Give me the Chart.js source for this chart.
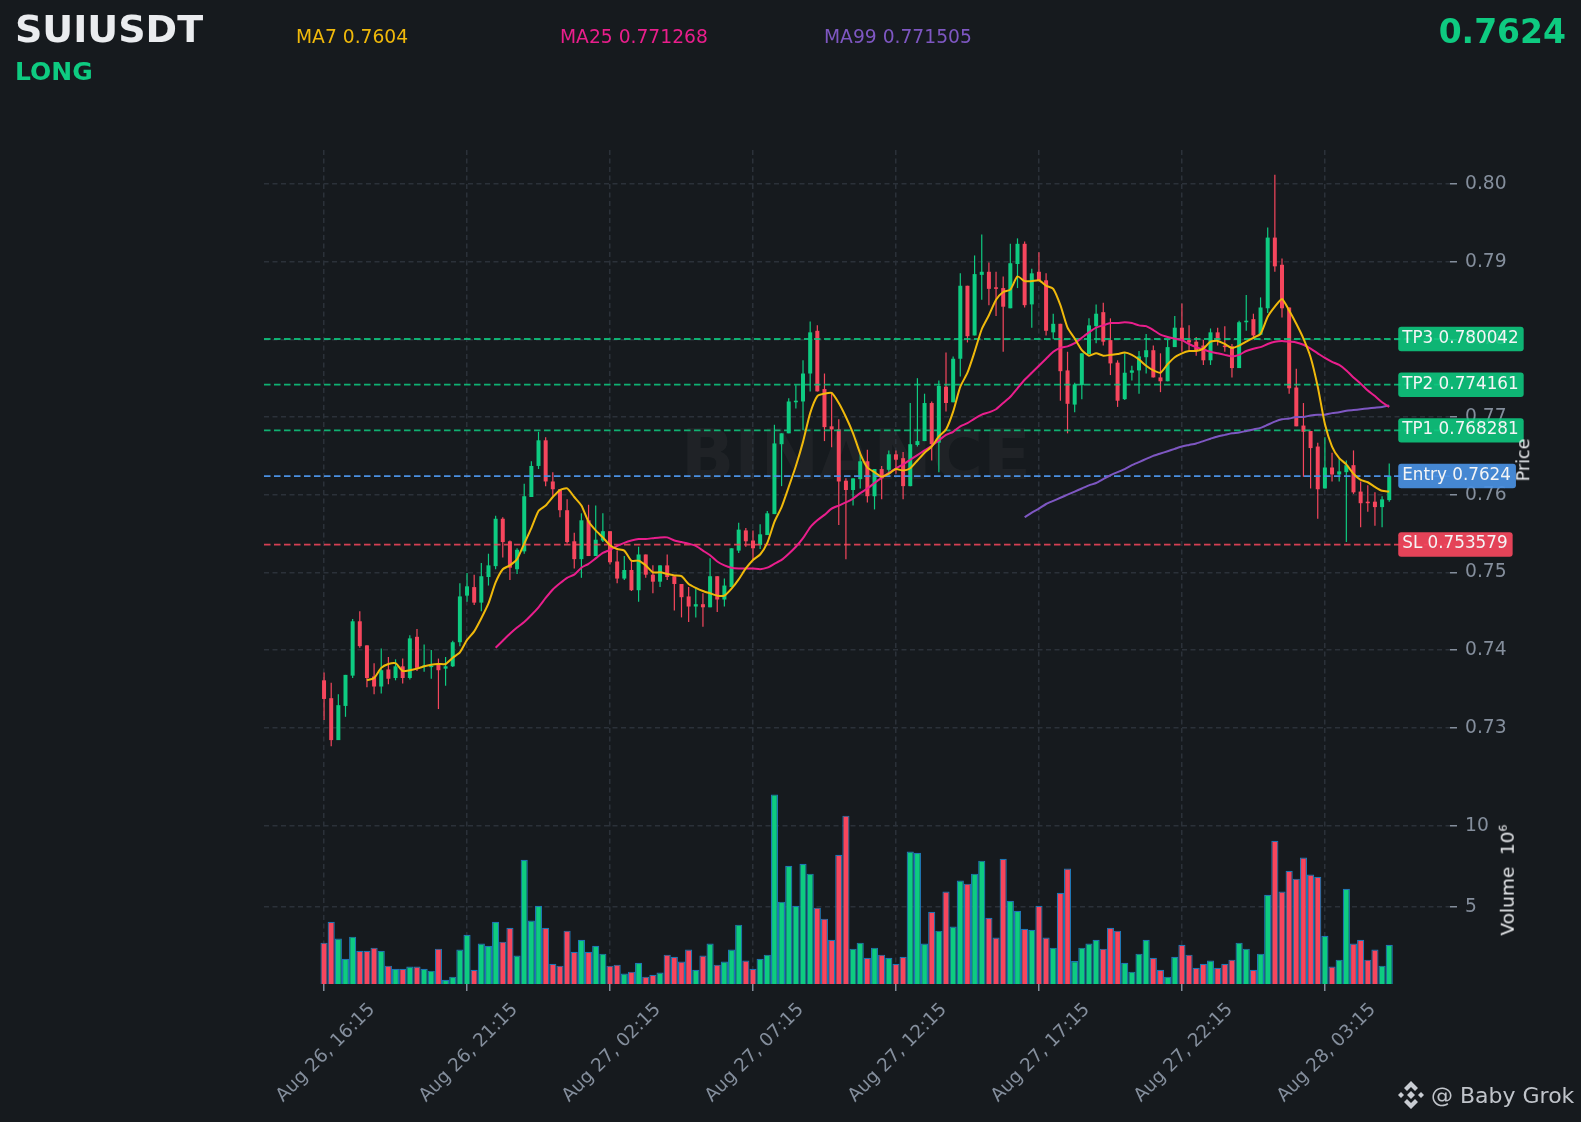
<!DOCTYPE html>
<html>
<head>
<meta charset="utf-8">
<title>SUIUSDT</title>
<script src="https://cdn.jsdelivr.net/npm/chart.js@4/dist/chart.umd.min.js"></script>
<style>
    html, body { margin: 0; padding: 0; background: #161a1e; }
    body { width: 1581px; height: 1122px; position: relative; overflow: hidden; font-family: "DejaVu Sans", sans-serif; }
    #chart { position: absolute; left: 0; top: 0; }
    .txt { position: absolute; white-space: nowrap; line-height: 1; }
    .rot { transform: translate(-50%, -50%) rotate(-90deg); color: #eaecef; }
    sup { font-size: 11px; line-height: 0; }
</style>
</head>
<body>
<div class="txt" style="left:681px;top:420px;font-size:70px;font-weight:bold;color:rgba(255,255,255,0.04);">BINANCE</div>
<canvas id="chart" width="1581" height="1122" style="width:1581px;height:1122px"></canvas>
<div class="txt" style="left:15px;top:10px;font-size:38px;font-weight:bold;color:#eaecef;">SUIUSDT</div>
<div class="txt" style="left:15px;top:59px;font-size:25px;font-weight:bold;color:#0ecb81;">LONG</div>
<div class="txt" style="left:296px;top:28px;font-size:18.7px;color:#f0b90b;">MA7 0.7604</div>
<div class="txt" style="left:560px;top:28px;font-size:18.7px;color:#e91e8c;">MA25 0.771268</div>
<div class="txt" style="left:824px;top:28px;font-size:18.7px;color:#7e57c2;">MA99 0.771505</div>
<div class="txt" style="right:15px;top:15px;font-size:33px;font-weight:bold;color:#0ecb81;">0.7624</div>
<div class="txt rot" style="left:1524px;top:460px;font-size:17.5px;">Price</div>
<div class="txt rot" style="left:1508px;top:880px;font-size:18.5px;">Volume&nbsp;&nbsp;10<sup>6</sup></div>
<svg style="position:absolute;left:1397px;top:1081px" width="28" height="28" viewBox="0 0 28 28" fill="#c8ccd2">
    <polygon points="14,0 21,7 18,10 14,6 10,10 7,7"/>
    <polygon points="14,28 21,21 18,18 14,22 10,18 7,21"/>
    <polygon points="14,10 18,14 14,18 10,14"/>
    <polygon points="4,11 7,14 4,17 1,14"/>
    <polygon points="24,11 27,14 24,17 21,14"/>
</svg>
<div class="txt" style="left:1431px;top:1085px;font-size:22px;color:#c0c4ca;">@ Baby Grok</div>

<script>
// Candles, 15 minute bars
const opens = [
    0.7361, 0.7338, 0.7284, 0.7328, 0.7367, 0.7437, 0.7406, 0.7366, 0.7353, 0.7375,
    0.7364, 0.7379, 0.7364, 0.7417, 0.7378, 0.7378, 0.7383, 0.7376, 0.7379, 0.7410,
    0.7470, 0.7481, 0.7461, 0.7494, 0.7508, 0.7569, 0.7540, 0.7504, 0.7527, 0.7597,
    0.7637, 0.7670, 0.7617, 0.7607, 0.7580, 0.7540, 0.7517, 0.7567, 0.7521, 0.7541,
    0.7553, 0.7514, 0.7492, 0.7503, 0.7477, 0.7523, 0.7497, 0.7488, 0.7509, 0.7495,
    0.7485, 0.7469, 0.7456, 0.7459, 0.7455, 0.7495, 0.7465, 0.7481, 0.7528, 0.7554,
    0.7541, 0.7535, 0.7548, 0.7575, 0.7665, 0.7679, 0.7719, 0.7720, 0.7756, 0.7811,
    0.7736, 0.7688, 0.7684, 0.7618, 0.7606, 0.7620, 0.7643, 0.7598, 0.7633, 0.7632,
    0.7652, 0.7647, 0.7611, 0.7664, 0.7669, 0.7718, 0.7667, 0.7739, 0.7719, 0.7775,
    0.7869, 0.7805, 0.7883, 0.7887, 0.7867, 0.7866, 0.7840, 0.7897, 0.7923, 0.7845,
    0.7887, 0.7876, 0.7809, 0.7820, 0.7760, 0.7716, 0.7741, 0.7781, 0.7817, 0.7835,
    0.7799, 0.7770, 0.7723, 0.7757, 0.7760, 0.7777, 0.7786, 0.7751, 0.7746, 0.7790,
    0.7815, 0.7799, 0.7797, 0.7792, 0.7773, 0.7809, 0.7792, 0.7791, 0.7763, 0.7822,
    0.7826, 0.7806, 0.7840, 0.7931, 0.7896, 0.7841, 0.7738, 0.7689, 0.7682, 0.7662,
    0.7608, 0.7635, 0.7626, 0.7629, 0.7638, 0.7604, 0.7591, 0.7591, 0.7584, 0.7593
];
const closes = [
    0.7337, 0.7284, 0.7329, 0.7368, 0.7437, 0.7405, 0.7364, 0.7353, 0.7374, 0.7363,
    0.7379, 0.7364, 0.7415, 0.7377, 0.7380, 0.7380, 0.7374, 0.7379, 0.7410, 0.7469,
    0.7482, 0.7461, 0.7495, 0.7509, 0.7569, 0.7539, 0.7506, 0.7529, 0.7598, 0.7637,
    0.7670, 0.7617, 0.7607, 0.7580, 0.7539, 0.7517, 0.7567, 0.7521, 0.7542, 0.7553,
    0.7513, 0.7492, 0.7503, 0.7477, 0.7523, 0.7497, 0.7488, 0.7509, 0.7494, 0.7485,
    0.7468, 0.7456, 0.7459, 0.7455, 0.7495, 0.7465, 0.7483, 0.7531, 0.7555, 0.7540,
    0.7531, 0.7549, 0.7576, 0.7666, 0.7679, 0.7720, 0.7721, 0.7756, 0.7809, 0.7733,
    0.7687, 0.7684, 0.7617, 0.7606, 0.7621, 0.7643, 0.7598, 0.7633, 0.7621, 0.7652,
    0.7645, 0.7611, 0.7665, 0.7669, 0.7718, 0.7665, 0.7740, 0.7718, 0.7775, 0.7869,
    0.7804, 0.7884, 0.7887, 0.7865, 0.7865, 0.7842, 0.7898, 0.7923, 0.7844, 0.7885,
    0.7875, 0.7811, 0.7820, 0.7759, 0.7717, 0.7742, 0.7782, 0.7818, 0.7833, 0.7797,
    0.7769, 0.7721, 0.7757, 0.7760, 0.7778, 0.7786, 0.7751, 0.7746, 0.7790, 0.7815,
    0.7799, 0.7796, 0.7786, 0.7773, 0.7809, 0.7799, 0.7790, 0.7763, 0.7822, 0.7824,
    0.7805, 0.7841, 0.7931, 0.7894, 0.7840, 0.7737, 0.7688, 0.7681, 0.7660, 0.7607,
    0.7635, 0.7626, 0.7630, 0.7638, 0.7603, 0.7589, 0.7589, 0.7584, 0.7594, 0.7624
];
const highs = [
    0.7371, 0.7358, 0.7343, 0.7368, 0.7440, 0.7450, 0.7406, 0.7383, 0.7402, 0.7391,
    0.7388, 0.7389, 0.7419, 0.7427, 0.7407, 0.7400, 0.7389, 0.7391, 0.7412, 0.7486,
    0.7499, 0.7497, 0.7512, 0.7524, 0.7573, 0.7571, 0.7541, 0.7531, 0.7614, 0.7643,
    0.7681, 0.7674, 0.7629, 0.7607, 0.7594, 0.7551, 0.7576, 0.7587, 0.7586, 0.7576,
    0.7553, 0.7528, 0.7521, 0.7515, 0.7533, 0.7523, 0.7509, 0.7509, 0.7523, 0.7495,
    0.7485, 0.7481, 0.7479, 0.7473, 0.7518, 0.7495, 0.7492, 0.7531, 0.7564, 0.7557,
    0.7554, 0.7562, 0.7579, 0.7690, 0.7679, 0.7724, 0.7741, 0.7773, 0.7823, 0.7818,
    0.7756, 0.7732, 0.7697, 0.7621, 0.7621, 0.7653, 0.7658, 0.7633, 0.7637, 0.7657,
    0.7657, 0.7655, 0.7718, 0.7750, 0.7730, 0.7720, 0.7747, 0.7783, 0.7778, 0.7885,
    0.7869, 0.7908, 0.7935, 0.7899, 0.7887, 0.7881, 0.7923, 0.7930, 0.7926, 0.7891,
    0.7912, 0.7885, 0.7833, 0.7820, 0.7784, 0.7744, 0.7782, 0.7827, 0.7845, 0.7847,
    0.7827, 0.7773, 0.7782, 0.7766, 0.7785, 0.7807, 0.7792, 0.7782, 0.7799, 0.7830,
    0.7846, 0.7818, 0.7803, 0.7799, 0.7814, 0.7815, 0.7817, 0.7794, 0.7824, 0.7857,
    0.7833, 0.7854, 0.7944, 0.8012, 0.7904, 0.7841, 0.7762, 0.7718, 0.7682, 0.7667,
    0.7674, 0.7654, 0.7646, 0.7644, 0.7657, 0.7617, 0.7612, 0.7603, 0.7598, 0.7640
];
const lows = [
    0.7310, 0.7276, 0.7284, 0.7314, 0.7364, 0.7403, 0.7352, 0.7343, 0.7344, 0.7356,
    0.7361, 0.7357, 0.7362, 0.7373, 0.7372, 0.7363, 0.7324, 0.7354, 0.7378, 0.7405,
    0.7462, 0.7458, 0.7450, 0.7483, 0.7504, 0.7519, 0.7490, 0.7498, 0.7524, 0.7597,
    0.7633, 0.7611, 0.7597, 0.7571, 0.7537, 0.7505, 0.7493, 0.7521, 0.7521, 0.7539,
    0.7510, 0.7486, 0.7490, 0.7476, 0.7462, 0.7493, 0.7473, 0.7481, 0.7490, 0.7451,
    0.7442, 0.7436, 0.7442, 0.7430, 0.7455, 0.7449, 0.7456, 0.7481, 0.7525, 0.7533,
    0.7515, 0.7530, 0.7548, 0.7575, 0.7611, 0.7679, 0.7711, 0.7683, 0.7733, 0.7733,
    0.7669, 0.7661, 0.7561, 0.7517, 0.7586, 0.7608, 0.7590, 0.7581, 0.7594, 0.7625,
    0.7627, 0.7594, 0.7611, 0.7662, 0.7669, 0.7644, 0.7629, 0.7707, 0.7719, 0.7752,
    0.7796, 0.7805, 0.7851, 0.7844, 0.7830, 0.7784, 0.7840, 0.7866, 0.7841, 0.7815,
    0.7875, 0.7805, 0.7800, 0.7721, 0.7679, 0.7706, 0.7723, 0.7781, 0.7795, 0.7792,
    0.7754, 0.7713, 0.7722, 0.7747, 0.7730, 0.7756, 0.7751, 0.7732, 0.7746, 0.7790,
    0.7784, 0.7786, 0.7779, 0.7767, 0.7767, 0.7792, 0.7784, 0.7751, 0.7763, 0.7811,
    0.7801, 0.7806, 0.7834, 0.7887, 0.7828, 0.7730, 0.7688, 0.7623, 0.7608, 0.7569,
    0.7608, 0.7617, 0.7617, 0.7539, 0.7601, 0.7558, 0.7578, 0.7560, 0.7558, 0.7591
];
// Volume in millions
const volumes = [
    2.80, 4.09, 3.05, 1.81, 3.17, 2.30, 2.30, 2.49, 2.30, 1.38,
    1.19, 1.19, 1.32, 1.32, 1.19, 1.07, 2.43, 0.51, 0.70, 2.37,
    3.29, 1.13, 2.74, 2.61, 4.09, 2.86, 3.72, 2.00, 7.92, 4.16,
    5.08, 3.72, 1.50, 1.38, 3.54, 2.24, 2.98, 2.24, 2.61, 2.12,
    1.38, 1.44, 0.89, 1.01, 1.56, 0.70, 0.82, 0.95, 2.06, 1.93,
    1.63, 2.37, 1.13, 2.00, 2.74, 1.44, 1.63, 2.37, 3.91, 1.69,
    1.19, 1.81, 2.06, 11.95, 5.33, 7.55, 5.08, 7.67, 7.06, 4.96,
    4.28, 2.98, 8.23, 10.64, 2.43, 2.80, 1.87, 2.49, 2.06, 1.87,
    1.50, 1.93, 8.42, 8.35, 2.74, 4.71, 3.54, 5.95, 3.79, 6.63,
    6.44, 7.06, 7.86, 4.34, 3.11, 7.98, 5.39, 4.77, 3.66, 3.60,
    5.08, 3.11, 2.49, 5.88, 7.37, 1.67, 2.49, 2.74, 2.98, 2.43,
    3.72, 3.54, 1.56, 1.01, 2.12, 2.98, 1.87, 1.13, 0.70, 1.93,
    2.67, 2.06, 1.25, 1.50, 1.69, 1.25, 1.50, 1.75, 2.80, 2.43,
    1.13, 2.12, 5.76, 9.09, 5.95, 7.24, 6.75, 8.05, 7.00, 6.87,
    3.23, 1.32, 1.75, 6.13, 2.74, 2.98, 1.75, 2.37, 1.38, 2.67
];
// Moving averages, first point of each sits on the bar given by its start
const ma7Start = 6;
const ma7 = [
    0.7361, 0.7364, 0.7377, 0.7382, 0.7383, 0.7373, 0.7374, 0.7376, 0.7379, 0.7381,
    0.7382, 0.7382, 0.7390, 0.7397, 0.7413, 0.7424, 0.7441, 0.7460, 0.7487, 0.7504,
    0.7509, 0.7517, 0.7537, 0.7557, 0.7579, 0.7586, 0.7597, 0.7606, 0.7608, 0.7597,
    0.7586, 0.7565, 0.7554, 0.7545, 0.7535, 0.7530, 0.7528, 0.7515, 0.7515, 0.7509,
    0.7500, 0.7500, 0.7498, 0.7496, 0.7495, 0.7485, 0.7480, 0.7476, 0.7473, 0.7470,
    0.7470, 0.7479, 0.7491, 0.7505, 0.7516, 0.7523, 0.7538, 0.7565, 0.7584, 0.7610,
    0.7637, 0.7668, 0.7705, 0.7727, 0.7730, 0.7731, 0.7718, 0.7700, 0.7679, 0.7653,
    0.7635, 0.7629, 0.7623, 0.7627, 0.7633, 0.7631, 0.7634, 0.7644, 0.7654, 0.7662,
    0.7675, 0.7684, 0.7707, 0.7739, 0.7757, 0.7784, 0.7813, 0.7831, 0.7851, 0.7861,
    0.7864, 0.7881, 0.7875, 0.7875, 0.7876, 0.7869, 0.7865, 0.7844, 0.7815, 0.7801,
    0.7786, 0.7779, 0.7782, 0.7779, 0.7780, 0.7781, 0.7783, 0.7780, 0.7774, 0.7766,
    0.7760, 0.7757, 0.7768, 0.7777, 0.7782, 0.7785, 0.7785, 0.7788, 0.7797, 0.7798,
    0.7794, 0.7789, 0.7792, 0.7797, 0.7802, 0.7807, 0.7829, 0.7842, 0.7852, 0.7837,
    0.7820, 0.7801, 0.7777, 0.7739, 0.7691, 0.7662, 0.7647, 0.7639, 0.7627, 0.7619,
    0.7616, 0.7610, 0.7605, 0.7604
];
const ma25Start = 24;
const ma25 = [
    0.7403, 0.7412, 0.7421, 0.7429, 0.7436, 0.7445, 0.7455, 0.7467, 0.7478, 0.7486,
    0.7493, 0.7497, 0.7506, 0.7511, 0.7518, 0.7525, 0.7529, 0.7534, 0.7538, 0.7541,
    0.7543, 0.7543, 0.7544, 0.7545, 0.7545, 0.7541, 0.7539, 0.7537, 0.7534, 0.7528,
    0.7522, 0.7514, 0.7509, 0.7506, 0.7505, 0.7505, 0.7505, 0.7504, 0.7506, 0.7511,
    0.7516, 0.7524, 0.7533, 0.7544, 0.7558, 0.7567, 0.7574, 0.7582, 0.7586, 0.7590,
    0.7595, 0.7602, 0.7608, 0.7615, 0.7622, 0.7628, 0.7634, 0.7639, 0.7645, 0.7651,
    0.7657, 0.7663, 0.7670, 0.7677, 0.7681, 0.7688, 0.7692, 0.7698, 0.7703, 0.7706,
    0.7710, 0.7718, 0.7726, 0.7737, 0.7748, 0.7757, 0.7766, 0.7775, 0.7784, 0.7789,
    0.7791, 0.7795, 0.7802, 0.7809, 0.7815, 0.7818, 0.7821, 0.7821, 0.7822, 0.7821,
    0.7818, 0.7817, 0.7812, 0.7806, 0.7803, 0.7801, 0.7799, 0.7794, 0.7790, 0.7787,
    0.7784, 0.7782, 0.7780, 0.7778, 0.7780, 0.7785, 0.7788, 0.7790, 0.7794, 0.7797,
    0.7798, 0.7797, 0.7796, 0.7793, 0.7788, 0.7782, 0.7776, 0.7771, 0.7767, 0.7760,
    0.7751, 0.7743, 0.7734, 0.7727, 0.7719, 0.7713
];
const ma99Start = 98;
const ma99 = [
    0.7571, 0.7577, 0.7582, 0.7588, 0.7592, 0.7596, 0.7600, 0.7604, 0.7608, 0.7612,
    0.7615, 0.7620, 0.7625, 0.7629, 0.7633, 0.7638, 0.7642, 0.7646, 0.7650, 0.7653,
    0.7656, 0.7659, 0.7662, 0.7664, 0.7666, 0.7669, 0.7672, 0.7675, 0.7677, 0.7679,
    0.7680, 0.7682, 0.7684, 0.7686, 0.7690, 0.7694, 0.7697, 0.7698, 0.7700, 0.7700,
    0.7702, 0.7703, 0.7703, 0.7705, 0.7706, 0.7708, 0.7709, 0.7710, 0.7711, 0.7712,
    0.7713, 0.7715
];
const tickLabels = ['Aug 26, 16:15', 'Aug 26, 21:15', 'Aug 27, 02:15', 'Aug 27, 07:15', 'Aug 27, 12:15', 'Aug 27, 17:15', 'Aug 27, 22:15', 'Aug 28, 03:15'];
const levelNames = ['TP3', 'TP2', 'TP1', 'Entry', 'SL'];
const levelValues = [0.780042, 0.774161, 0.768281, 0.7624, 0.753579];
const levelTexts = ['0.780042', '0.774161', '0.768281', '0.7624', '0.753579'];
const levelLines = ['rgba(14,203,129,0.85)', 'rgba(14,203,129,0.85)', 'rgba(14,203,129,0.85)', '#4a90e2', 'rgba(246,70,93,0.85)'];
const levelBoxes = ['rgba(14,203,129,0.88)', 'rgba(14,203,129,0.88)', 'rgba(14,203,129,0.88)', 'rgba(74,144,226,0.92)', 'rgba(246,70,93,0.92)'];

const UP = '#0ecb81';
const DOWN = '#f6465d';
const FONT = '"DejaVu Sans", sans-serif';
const X_MIN = -8.4;
const X_MAX = 157.5;

const dirColors = opens.map((o, i) => (closes[i] >= o ? UP : DOWN));

// Level tags on the right, drawn over the axis labels
const levelTags = {
    id: 'levelTags',
    afterDraw(chart) {
        const { ctx, scales } = chart;
        ctx.save();
        ctx.font = '16.8px ' + FONT;
        ctx.textBaseline = 'middle';
        levelNames.forEach((name, i) => {
            const text = name + ' ' + levelTexts[i];
            const left = scales.x.getPixelForValue(149) + 9;
            const y = scales.y.getPixelForValue(levelValues[i]);
            const w = ctx.measureText(text).width + 9;
            ctx.fillStyle = levelBoxes[i];
            ctx.beginPath();
            ctx.roundRect(left, y - 12.2, w, 24.4, 3);
            ctx.fill();
            ctx.fillStyle = '#f4f5f6';
            ctx.textAlign = 'left';
            ctx.fillText(text, left + 4, y - 0.5);
        });
        ctx.restore();
    }
};

const lineSet = (values, start, color) => ({
    type: 'line',
    data: values.map((v, i) => ({ x: i + start, y: v })),
    yAxisID: 'y',
    borderColor: color,
    borderWidth: 2,
    pointRadius: 0,
    tension: 0.2,
    order: 0
});

const levelSets = levelValues.map((v, i) => ({
    type: 'line',
    data: [{ x: X_MIN, y: v }, { x: X_MAX, y: v }],
    yAxisID: 'y',
    borderColor: levelLines[i],
    borderWidth: 1.8,
    borderDash: [6.5, 3.5],
    pointRadius: 0,
    order: 1
}));

const gridStyle = {
    color: '#2b3139',
    lineWidth: 1.5,
    tickColor: '#848e9c',
    tickWidth: 1.5,
    tickLength: 7,
    tickBorderDash: []
};
const borderStyle = { display: false, dash: [5, 3.5] };

const ctx = document.getElementById('chart').getContext('2d');
const chart = new Chart(ctx, {
    type: 'bar',
    data: {
        datasets: [
            lineSet(ma7, ma7Start, '#f0b90b'),
            lineSet(ma25, ma25Start, '#e91e8c'),
            lineSet(ma99, ma99Start, '#7e57c2'),
            ...levelSets,
            {
                // candle bodies
                data: opens.map((o, i) => ({ x: i, y: [o, closes[i]] })),
                yAxisID: 'y',
                backgroundColor: dirColors,
                barThickness: 4,
                minBarLength: 1,
                grouped: false,
                inflateAmount: 0,
                order: 2
            },
            {
                // wicks
                data: lows.map((l, i) => ({ x: i, y: [l, highs[i]] })),
                yAxisID: 'y',
                backgroundColor: dirColors,
                barThickness: 1.2,
                grouped: false,
                inflateAmount: 0,
                order: 3
            },
            {
                data: volumes.map((v, i) => ({ x: i, y: v })),
                yAxisID: 'yVol',
                backgroundColor: dirColors,
                borderColor: '#1f77b4',
                borderWidth: { top: 1.2, left: 1.2, right: 1.2, bottom: 0 },
                barThickness: 7.15,
                grouped: false,
                inflateAmount: 0,
                order: 4
            }
        ]
    },
    options: {
        responsive: false,
        animation: false,
        events: [],
        layout: { padding: { left: 264, top: 150, right: 61, bottom: 0 } },
        plugins: { legend: { display: false }, tooltip: { enabled: false } },
        scales: {
            x: {
                type: 'linear',
                offset: false,
                min: X_MIN,
                max: X_MAX,
                afterFit: (scale) => { scale.height = 138; },
                border: borderStyle,
                grid: { ...gridStyle, offset: false },
                ticks: {
                    stepSize: 20,
                    includeBounds: false,
                    autoSkip: false,
                    minRotation: 45,
                    maxRotation: 45,
                    labelOffset: 48,
                    padding: 8,
                    color: '#848e9c',
                    font: { family: FONT, size: 18.5 },
                    callback: (v) => tickLabels[v / 20]
                }
            },
            y: {
                position: 'right',
                stack: 'panes',
                stackWeight: 620,
                min: 0.724552,
                max: 0.804378,
                afterFit: (scale) => { scale.width = 70; },
                border: borderStyle,
                grid: gridStyle,
                ticks: {
                    stepSize: 0.01,
                    includeBounds: false,
                    color: '#848e9c',
                    padding: 8,
                    font: { family: FONT, size: 18.7 },
                    callback: (v) => v.toFixed(2)
                }
            },
            yVol: {
                position: 'right',
                stack: 'panes',
                stackWeight: 214,
                min: 0.247,
                max: 13.457,
                afterFit: (scale) => { scale.width = 70; },
                border: borderStyle,
                grid: gridStyle,
                ticks: {
                    stepSize: 5,
                    includeBounds: false,
                    color: '#848e9c',
                    padding: 8,
                    font: { family: FONT, size: 18.7 }
                }
            }
        }
    },
    plugins: [levelTags]
});
</script>
</body>
</html>
